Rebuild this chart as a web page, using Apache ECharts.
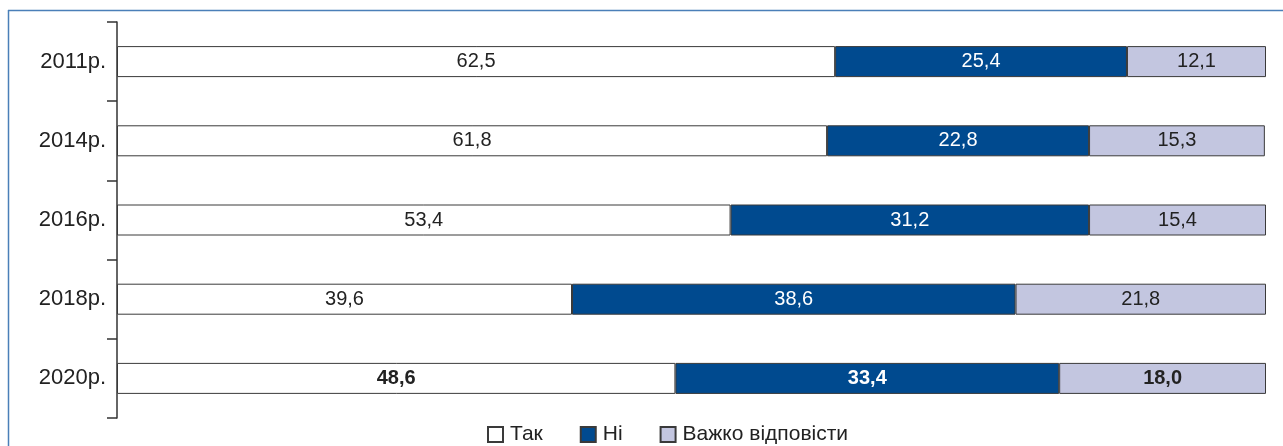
<!DOCTYPE html>
<html><head><meta charset="utf-8">
<script src="https://cdn.jsdelivr.net/npm/echarts@6/dist/echarts.min.js"></script>
<style>html,body{margin:0;padding:0;background:#fff}#c{width:1283px;height:446px}</style>
</head><body><div id="c"></div>
<script>
const categories = ['2011р.', '2014р.', '2016р.', '2018р.', '2020р.'];
const seriesNames = ['Так', 'Ні', 'Важко відповісти'];
const yes = [62.5, 61.8, 53.4, 39.6, 48.6];
const no = [25.4, 22.8, 31.2, 38.6, 33.4];
const hard = [12.1, 15.3, 15.4, 21.8, 18.0];
const boldIndex = 4;

const FONT = '"Liberation Sans", Arial, Helvetica, sans-serif';
const colors = ['#ffffff', '#004a8f', '#c3c6e0'];
const labelColors = ['#222', '#fff', '#222'];
const fmt = v => v.toFixed(1).replace('.', ',');

function mk(name, arr, i) {
  return {
    name, type: 'bar', stack: 'all', barWidth: 31,
    itemStyle: { color: colors[i], borderColor: '#3a3a3a', borderWidth: 1 },
    label: { show: true, position: 'inside', color: labelColors[i], fontSize: 20, fontFamily: FONT,
      formatter: p => fmt(p.value) },
    emphasis: { disabled: true },
    data: arr.map((v, k) => k === boldIndex ? { value: v, label: { fontWeight: 'bold' } } : v)
  };
}

const chart = echarts.init(document.getElementById('c'));
chart.setOption({
  animation: false,
  textStyle: { fontFamily: FONT },
  grid: { left: 117, right: 17, top: 22, bottom: 28 },
  xAxis: { type: 'value', min: 0, max: 100, show: false },
  yAxis: {
    type: 'category', data: categories, inverse: true,
    axisLine: { lineStyle: { color: '#333', width: 1.5 } },
    axisTick: { show: true, length: 10, lineStyle: { color: '#333', width: 1.5 } },
    axisLabel: { margin: 11, color: '#222', fontSize: 22, fontFamily: FONT },
    splitLine: { show: false }
  },
  legend: {
    left: 482, top: 419, itemWidth: 15, itemHeight: 15, itemGap: 37,
    icon: 'rect',
    textStyle: { fontSize: 21, color: '#222', fontFamily: FONT, padding: [0, 0, 0, 2] },
    data: seriesNames
  },
  graphic: [
    { type: 'line', shape: { x1: 8, y1: 10.5, x2: 1283, y2: 10.5 }, style: { stroke: '#4a7fb8', lineWidth: 1.5 }, silent: true },
    { type: 'line', shape: { x1: 8.5, y1: 10, x2: 8.5, y2: 446 }, style: { stroke: '#4a7fb8', lineWidth: 1.5 }, silent: true }
  ],
  series: [mk(seriesNames[0], yes, 0), mk(seriesNames[1], no, 1), mk(seriesNames[2], hard, 2)]
});
</script></body></html>
